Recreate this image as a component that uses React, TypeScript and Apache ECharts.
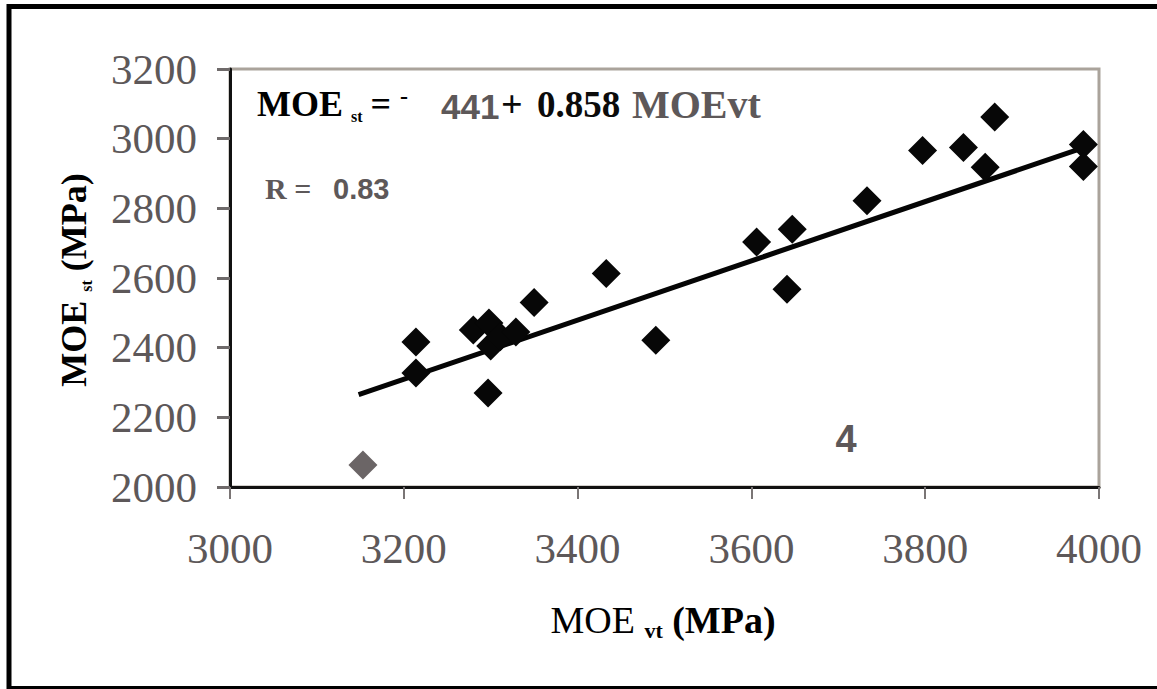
import React, { useEffect, useRef } from "react";
import * as echarts from "echarts";

// MOE_vt (x) and MOE_st (y), MPa
const blackX = [3214, 3214, 3280, 3298, 3300, 3311, 3329, 3297, 3350, 3433, 3490, 3606, 3647, 3641, 3733, 3797, 3844, 3869, 3880, 3982, 3982];
const blackY = [2416, 2327, 2451, 2471, 2405, 2431, 2445, 2270, 2530, 2613, 2421, 2703, 2740, 2568, 2822, 2966, 2975, 2918, 3062, 2983, 2920];
const greyX = [3153];
const greyY = [2063];
// regression line end points (MOE_st = -441 + 0.858 MOE_vt)
const fitX = [3148, 3995];
const fitY = [2265, 2985];

const xTicks = { min: 3000, max: 4000, interval: 200 };
const yTicks = { min: 2000, max: 3200, interval: 200 };

const GREY = "#5d5859";
const SERIF = "Liberation Serif";
const SANS = "Liberation Sans";

export default function App() {
  const ref = useRef<HTMLDivElement>(null);
  useEffect(() => {
    if (!ref.current) return;
    const chart = echarts.init(ref.current, null, { renderer: "svg" });
    const black = blackX.map((x, i) => [x, blackY[i]]);
    const grey = greyX.map((x, i) => [x, greyY[i]]);
    const fit = fitX.map((x, i) => [x, fitY[i]]);
    const txt = (x: number, y: number, text: string, font: string, size: number, color: string, weight = "bold") => ({
      type: "text",
      x,
      y,
      style: {
        text,
        fontFamily: font,
        fontWeight: weight,
        fontSize: size,
        fill: color,
        align: "left",
        verticalAlign: "middle",
      },
      z: 10,
    });
    chart.setOption({
      animation: false,
      backgroundColor: "#ffffff",
      grid: {
        left: 230,
        right: 58,
        top: 69,
        bottom: 202,
        show: true,
        borderColor: "#aaa39b",
        borderWidth: 3,
        backgroundColor: "transparent",
      },
      xAxis: {
        type: "value",
        min: xTicks.min,
        max: xTicks.max,
        interval: xTicks.interval,
        axisLine: { show: true, lineStyle: { color: "#111", width: 3 } },
        axisTick: { show: true, length: 12, lineStyle: { color: "#7a7575", width: 2 } },
        splitLine: { show: false },
        axisLabel: {
          fontFamily: SERIF,
          fontSize: 43,
          color: GREY,
          margin: 40,
          formatter: (v: number) => String(v),
        },
      },
      yAxis: {
        type: "value",
        min: yTicks.min,
        max: yTicks.max,
        interval: yTicks.interval,
        axisLine: { show: true, lineStyle: { color: "#111", width: 3 } },
        axisTick: { show: true, length: 13, lineStyle: { color: "#6f6a6a", width: 3 } },
        splitLine: { show: false },
        axisLabel: {
          fontFamily: SERIF,
          fontSize: 43,
          color: GREY,
          margin: 33,
          formatter: (v: number) => String(v),
        },
      },
      series: [
        {
          type: "line",
          data: fit,
          showSymbol: false,
          symbol: "none",
          lineStyle: { color: "#050505", width: 5 },
          z: 2,
        },
        {
          type: "scatter",
          data: black,
          symbol: "diamond",
          symbolSize: 29,
          itemStyle: { color: "#070707", opacity: 1 },
          z: 3,
        },
        {
          type: "scatter",
          data: grey,
          symbol: "diamond",
          symbolSize: 29,
          itemStyle: { color: "#6b6566", opacity: 1 },
          z: 3,
        },
      ],
      graphic: [
        {
          type: "rect",
          shape: { x: 9, y: 6.5, width: 1250, height: 682 },
          style: { fill: "none", stroke: "#000", lineWidth: 5 },
          silent: true,
        },
        {
          type: "text",
          x: 257,
          y: 104,
          style: {
            text: "{a|MOE}{sub|  st  }{a|= }{sup|-}",
            verticalAlign: "middle",
            align: "left",
            rich: {
              a: { fontFamily: SERIF, fontWeight: "bold", fontSize: 36, color: GREY, lineHeight: 40 },
              sub: { fontFamily: SERIF, fontWeight: "bold", fontSize: 16, color: GREY, lineHeight: 16, verticalAlign: "bottom" },
              sup: { fontFamily: SERIF, fontWeight: "bold", fontSize: 24, color: GREY, lineHeight: 24, verticalAlign: "top" },
            },
          },
          z: 10,
        },
        txt(441, 106, "441", SANS, 35, GREY),
        txt(501, 104, "+", SERIF, 38, "#0b0b0b"),
        txt(537, 104, "0.858", SERIF, 37, "#0b0b0b"),
        txt(632, 104, "MOEvt", SERIF, 40, GREY),
        txt(265, 188, "R = ", SERIF, 30, GREY),
        txt(333, 189, "0.83", SANS, 29, GREY),
        {
          type: "text",
          x: 846,
          y: 439,
          style: {
            text: "4",
            fontFamily: SANS,
            fontWeight: "bold",
            fontSize: 38,
            fill: GREY,
            align: "center",
            verticalAlign: "middle",
          },
          z: 10,
        },
        {
          type: "text",
          x: 663,
          y: 620,
          style: {
            text: "{a|MOE }{sub|vt}{b| (MPa)}",
            align: "center",
            verticalAlign: "middle",
            rich: {
              a: { fontFamily: SERIF, fontSize: 38, color: GREY, lineHeight: 42 },
              sub: { fontFamily: SERIF, fontWeight: "bold", fontSize: 22, color: "#111", lineHeight: 22, verticalAlign: "bottom" },
              b: { fontFamily: SERIF, fontWeight: "bold", fontSize: 38, color: GREY, lineHeight: 42 },
            },
          },
          z: 10,
        },
        {
          type: "text",
          x: 74,
          y: 280,
          rotation: Math.PI / 2,
          style: {
            text: "{a|MOE }{sub|st}{a| (MPa)}",
            align: "center",
            verticalAlign: "middle",
            rich: {
              a: { fontFamily: SERIF, fontWeight: "bold", fontSize: 36, color: "#222", lineHeight: 40 },
              sub: { fontFamily: SERIF, fontWeight: "bold", fontSize: 16, color: "#222", lineHeight: 16, verticalAlign: "bottom" },
            },
          },
          z: 10,
        },
      ],
    });
    return () => chart.dispose();
  }, []);
  return (
    <div
      ref={ref}
      style={{ position: "fixed", left: 0, top: 0, width: 1157, height: 689, background: "#fff" }}
    />
  );
}
